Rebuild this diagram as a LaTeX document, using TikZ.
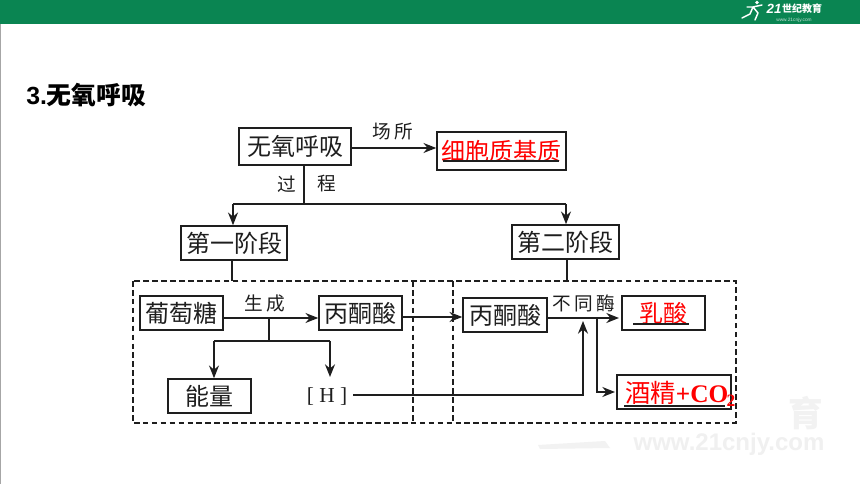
\documentclass[tikz,border=0pt]{standalone}
\usepackage{fontspec}
\setmainfont{Liberation Serif}
\newfontfamily\cjk{Noto Sans CJK SC}
\newfontfamily\arialf{Liberation Sans}
\usetikzlibrary{arrows.meta}
\definecolor{barg}{HTML}{0A8552}
\definecolor{ink}{HTML}{1E1E1E}
\tikzset{
 px/.style={x=0.75pt,y=-0.75pt},
 bx/.style={draw=ink,line width=1.25pt,inner sep=0pt,fill=white,text=ink,font=\cjk\fontsize{18}{18}\selectfont},
 redbx/.style={bx,text=red},
 lab/.style={inner sep=0pt,text=ink,font=\cjk\fontsize{14}{14}\selectfont},
 conn/.style={draw=ink,line width=1.1pt},
 arr/.style={conn,-{Stealth[length=9.5pt,width=7.5pt]}},
 dashline/.style={draw=ink,line width=1.2pt,dash pattern=on 4.2pt off 2.5pt},
 uline/.style={draw=ink,line width=1.1pt},
}
\newcommand{\boxat}[6]{\node[#1,minimum width=#4*0.75pt,minimum height=#5*0.75pt] (#2) at (#3) {#6};}
\begin{document}
\begin{tikzpicture}[px]
\useasboundingbox (0,0) rectangle (860,484);
\fill[white] (0,0) rectangle (860,484);
\fill[barg] (0,0) rectangle (860,24);
\fill[black!35] (0,24) rectangle (1.2,484);
% logo
\draw[white,line width=1.1pt,line cap=round,line join=round] (742,18) -- (750,14) -- (753,7) -- (762,5) (753,7) -- (758,13) -- (755,20) (747,7)--(753,7);
\fill[white] (757,2.5) circle (1.8);
\node[inner sep=0pt,text=white,font=\arialf\bfseries\itshape\fontsize{10}{10}\selectfont] (logoa) at (774,9) {21};
\node[inner sep=0pt,text=white,font=\cjk\bfseries\fontsize{7.5}{8}\selectfont] (logob) at (802,9) {世纪教育};
\node[inner sep=0pt,text=white!75!barg,font=\arialf\fontsize{3.6}{4}\selectfont] (logoc) at (794,20) {www.21cnjy.com};
% watermark
\node[inner sep=0pt,text=black!5,font=\cjk\bfseries\fontsize{26}{26}\selectfont] (wm1) at (806,413) {育};
\node[inner sep=0pt,text=black!6,font=\arialf\bfseries\fontsize{18}{18}\selectfont] (wm2) at (729,444) {www.21cnjy.com};
\fill[black!5] (538,445) -- (605,441) -- (610,448) -- (540,449) -- cycle;
% title
\node[anchor=west,inner sep=0pt,text=black,font=\arialf\bfseries\fontsize{18.6}{18}\selectfont] (title) at (26,95) {3.{\cjk\bfseries 无氧呼吸}};
% dashed frame
\draw[dashline] (133,281) rectangle (736,423);
\coordinate (dt1) at (413,281); \coordinate (db1) at (413,423);
\coordinate (dt2) at (453,281); \coordinate (db2) at (453,423);
\draw[dashline] (dt1) -- (db1);
\draw[dashline] (dt2) -- (db2);
% boxes
\boxat{bx}{wy}{295,146.5}{112}{37}{无氧呼吸}
\boxat{redbx}{xb}{501.5,151}{129}{38}{细胞质基质}
\boxat{bx}{s1}{234,243}{106}{34}{第一阶段}
\boxat{bx}{s2}{565.5,242}{107}{34}{第二阶段}
\boxat{bx}{ptt}{181.5,313}{83}{34}{葡萄糖}
\boxat{bx}{bta}{360.5,313}{83}{34}{丙酮酸}
\boxat{bx}{nl}{209.5,396}{83}{34}{能量}
\boxat{bx}{btb}{505,315}{84}{34}{丙酮酸}
\boxat{redbx}{rs}{663.5,313}{83}{34}{乳酸}
\boxat{redbx}{jj}{674,392}{114}{34}{}
\node[inner sep=0pt,text=red,anchor=west,font=\fontsize{19}{19}\selectfont\bfseries] (jjt) at (625,392.5) {{\cjk\mdseries 酒精}+CO};
\node[inner sep=0pt,text=red,anchor=center,font=\fontsize{13}{13}\selectfont\bfseries] (jjs) at (731,400.5) {2};
\node[inner sep=0pt,text=ink,font=\fontsize{16}{16}\selectfont] (hh) at (327,397) {[\kern 4pt H\kern 4pt]};
% underlines
\coordinate (u1a) at (443,161); \coordinate (u1b) at (559,161);
\coordinate (u2a) at (633,324); \coordinate (u2b) at (689,324);
\coordinate (u3a) at (624,406); \coordinate (u3b) at (725,406);
\draw[uline] (u1a) -- (u1b); \draw[uline] (u2a) -- (u2b); \draw[uline] (u3a) -- (u3b);
% labels
\node[lab] (l1) at (393,132) {场\hspace{3pt}所};
\node[lab] (l2a) at (287,184) {过};
\node[lab] (l2b) at (327,184) {程};
\node[lab] (l3) at (265,303) {生\hspace{3pt}成};
\node[lab] (l4) at (584,303) {不\hspace{2.5pt}同\hspace{2.5pt}酶};
% connectors
\draw[arr] (wy.east |- 0,148) -- (xb.west |- 0,148);
\coordinate (j1) at (304,204);
\coordinate (j1l) at (233,204);
\coordinate (j1r) at (566,204);
\draw[conn] (wy.south -| j1) -- (j1);
\draw[conn] (j1l) -- (j1r);
\draw[arr] (j1l) -- (j1l |- s1.north);
\draw[arr] (j1r) -- (j1r |- s2.north);
\coordinate (d1) at (232,281); \coordinate (d2) at (567,281);
\draw[conn] (d1 |- s1.south) -- (d1);
\draw[conn] (d2 |- s2.south) -- (d2);
\draw[arr] (ptt.east |- 0,318) -- (bta.west |- 0,318);
\coordinate (j2) at (269,318);
\coordinate (j2b) at (269,341);
\coordinate (j2l) at (214,341);
\coordinate (j2r) at (330,341);
\coordinate (hend) at (330,377);
\draw[conn] (j2) -- (j2b);
\draw[conn] (j2l) -- (j2r);
\draw[arr] (j2l) -- (j2l |- nl.north);
\draw[arr] (j2r) -- (hend);
\draw[arr] (bta.east |- 0,317) -- (btb.west |- 0,317);
\coordinate (hs) at (353,395);
\coordinate (hc) at (583,395);
\coordinate (he) at (583,321);
\draw[arr] (hs) -- (hc) -- (he);
\coordinate (rsend) at (619,318);
\draw[arr] (btb.east |- rsend) -- (rsend);
\coordinate (j3) at (597,318);
\coordinate (j3b) at (597,392);
\coordinate (jjend) at (615,392);
\draw[arr] (j3) -- (j3b) -- (jjend);
\end{tikzpicture}
\end{document}
